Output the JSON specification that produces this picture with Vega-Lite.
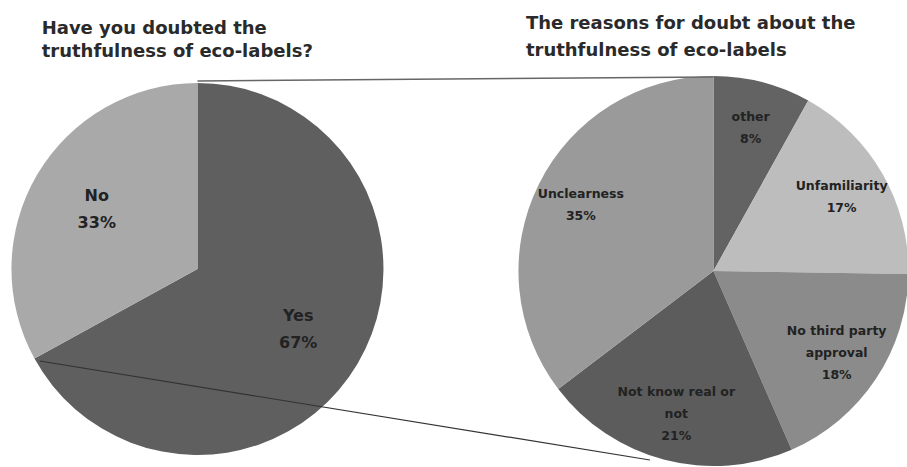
{
  "$schema": "https://vega.github.io/schema/vega-lite/v6.json",
  "width": 907,
  "height": 467,
  "autosize": {"type": "fit", "contains": "padding"},
  "padding": 0,
  "background": "white",
  "config": {"view": {"stroke": null}},
  "datasets": {
    "doubted": [
      {"cat": "Yes", "pct": 67, "label": "Yes\n67%", "idx": 1},
      {"cat": "No", "pct": 33, "label": "No\n33%", "idx": 2}
    ],
    "reasons": [
      {"cat": "other", "pct": 8, "label": "other\n8%", "idx": 1},
      {"cat": "Unfamiliarity", "pct": 17, "label": "Unfamiliarity\n17%", "idx": 2},
      {"cat": "No third party approval", "pct": 18, "label": "No third party\napproval\n18%", "idx": 3},
      {"cat": "Not know real or not", "pct": 21, "label": "Not know real or\nnot\n21%", "idx": 4},
      {"cat": "Unclearness", "pct": 35, "label": "Unclearness\n35%", "idx": 5}
    ],
    "titles": [
      {"chart": "left", "title": "Have you doubted the\ntruthfulness of eco-labels?"},
      {"chart": "right", "title": "The reasons for doubt about the\ntruthfulness of eco-labels"}
    ]
  },
  "resolve": {"scale": {"theta": "independent"}},
  "layer": [
    {
      "data": {"name": "doubted"},
      "mark": {"type": "arc", "outerRadius": 186, "stroke": null},
      "encoding": {
        "x": {"datum": 199, "type": "quantitative", "scale": {"domain": [0, 907], "nice": false, "zero": false}, "axis": null},
        "y": {"datum": 269, "type": "quantitative", "scale": {"domain": [0, 467], "nice": false, "zero": false, "reverse": true}, "axis": null},
        "theta": {"field": "pct", "type": "quantitative"},
        "order": {"field": "idx", "type": "quantitative"},
        "color": {
          "field": "cat", "type": "nominal", "legend": null,
          "scale": {
            "domain": ["Yes", "No", "other", "Unfamiliarity", "No third party approval", "Not know real or not", "Unclearness"],
            "range": ["#5f5f5f", "#a9a9a9", "#636363", "#bdbdbd", "#8b8b8b", "#5c5c5c", "#9a9a9a"]
          }
        }
      }
    },
    {
      "data": {"name": "reasons"},
      "mark": {"type": "arc", "outerRadius": 195, "stroke": null},
      "encoding": {
        "x": {"datum": 719, "type": "quantitative"},
        "y": {"datum": 271, "type": "quantitative"},
        "theta": {"field": "pct", "type": "quantitative"},
        "order": {"field": "idx", "type": "quantitative"},
        "color": {"field": "cat", "type": "nominal", "legend": null}
      }
    },
    {
      "data": {"name": "doubted"},
      "mark": {"type": "text", "radius": 117, "lineBreak": "\n", "fontSize": 16, "lineHeight": 27, "fontWeight": "bold", "font": "DejaVu Sans", "color": "#222222", "baseline": "middle", "align": "center", "dy": -13},
      "encoding": {
        "x": {"datum": 199, "type": "quantitative"},
        "y": {"datum": 269, "type": "quantitative"},
        "theta": {"field": "pct", "type": "quantitative", "stack": true},
        "order": {"field": "idx", "type": "quantitative"},
        "text": {"field": "label", "type": "nominal"}
      }
    },
    {
      "data": {"name": "reasons"},
      "mark": {"type": "text", "radius": 148, "lineBreak": "\n", "fontSize": 12.5, "lineHeight": 22, "fontWeight": "bold", "font": "DejaVu Sans", "color": "#222222", "baseline": "middle", "align": "center", "dy": {"expr": "-(length(split(datum.label, '\\n')) - 1) * 11"}},
      "encoding": {
        "x": {"datum": 719, "type": "quantitative"},
        "y": {"datum": 271, "type": "quantitative"},
        "theta": {"field": "pct", "type": "quantitative", "stack": true},
        "order": {"field": "idx", "type": "quantitative"},
        "text": {"field": "label", "type": "nominal"}
      }
    },
    {
      "data": {"values": [{}]},
      "mark": {"type": "rule", "color": "#666666", "strokeWidth": 1.5},
      "encoding": {
        "x": {"datum": 199, "type": "quantitative"},
        "y": {"datum": 81, "type": "quantitative"},
        "x2": {"datum": 719},
        "y2": {"datum": 77}
      }
    },
    {
      "data": {"values": [{}]},
      "mark": {"type": "rule", "color": "#333333", "strokeWidth": 1.2},
      "encoding": {
        "x": {"datum": 40, "type": "quantitative"},
        "y": {"datum": 361, "type": "quantitative"},
        "x2": {"datum": 655},
        "y2": {"datum": 460}
      }
    },
    {
      "data": {"name": "titles"},
      "transform": [{"filter": "datum.chart === 'left'"}],
      "mark": {"type": "text", "lineBreak": "\n", "fontSize": 18, "lineHeight": 23, "fontWeight": "bold", "font": "DejaVu Sans", "color": "#2a2a2a", "align": "left", "baseline": "alphabetic"},
      "encoding": {
        "x": {"datum": 42, "type": "quantitative"},
        "y": {"datum": 34, "type": "quantitative"},
        "text": {"field": "title", "type": "nominal"}
      }
    },
    {
      "data": {"name": "titles"},
      "transform": [{"filter": "datum.chart === 'right'"}],
      "mark": {"type": "text", "lineBreak": "\n", "fontSize": 18, "lineHeight": 27, "fontWeight": "bold", "font": "DejaVu Sans", "color": "#2a2a2a", "align": "left", "baseline": "alphabetic"},
      "encoding": {
        "x": {"datum": 530, "type": "quantitative"},
        "y": {"datum": 29, "type": "quantitative"},
        "text": {"field": "title", "type": "nominal"}
      }
    }
  ]
}
